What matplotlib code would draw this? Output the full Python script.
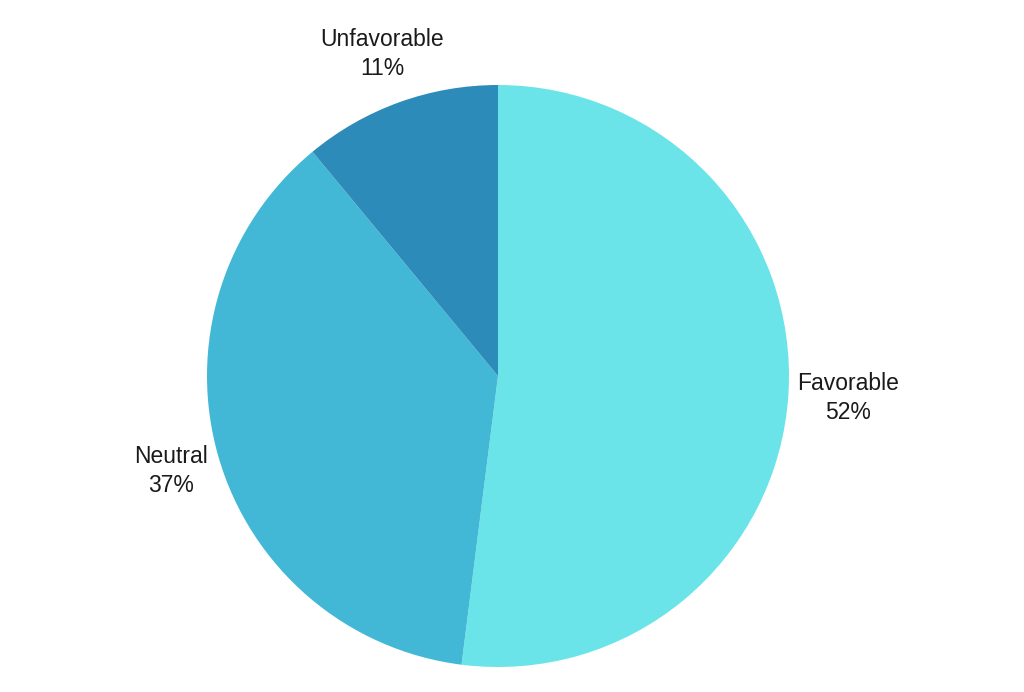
import numpy as np
import matplotlib.pyplot as plt

labels = ['Favorable', 'Neutral', 'Unfavorable']
values = [52, 37, 11]
colors = ['#6ae4e9', '#42b8d6', '#2d8bba']

plt.rcParams['font.family'] = ['Liberation Sans', 'DejaVu Sans']

fig = plt.figure(figsize=(10.24, 6.92), dpi=100)
cx, cy, r = 498, 376, 291
ax = fig.add_axes([(cx - r) / 1024, (692 - cy - r) / 692, 2 * r / 1024, 2 * r / 692])

wedges, _ = ax.pie(values, colors=colors, startangle=90, counterclock=False,
                   radius=1, wedgeprops=dict(linewidth=0))
ax.set_xlim(-1, 1)
ax.set_ylim(-1, 1)
ax.set_aspect('auto')
ax.axis('off')

# label distance from centre (per wedge, to sit like the original)
dist = [1.205, 1.17, 1.175]
for w, lab, v, d in zip(wedges, labels, values, dist):
    ang = np.deg2rad((w.theta1 + w.theta2) / 2)
    x, y = d * np.cos(ang), d * np.sin(ang)
    ax.text(x, y, f'{lab}\n{v}%', ha='center', va='center', fontsize=16.5,
            color='#1a1a1a', linespacing=1.35, clip_on=False)

fig.savefig('out.png', dpi=100, facecolor='white')
